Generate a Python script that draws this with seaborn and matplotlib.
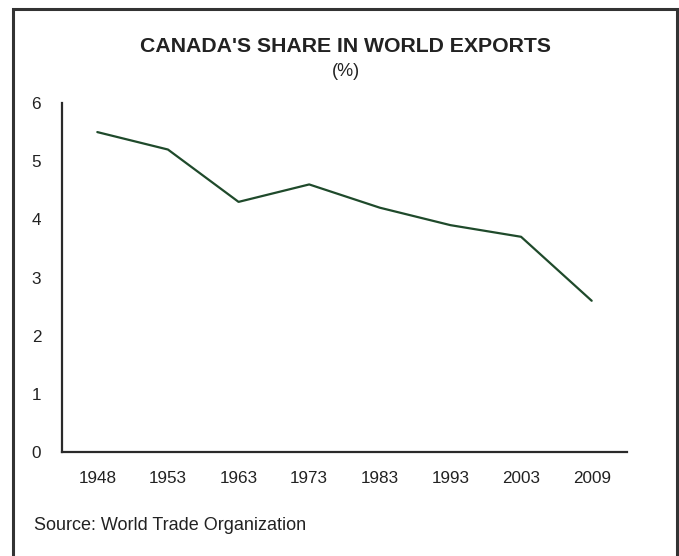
import matplotlib
matplotlib.use("Agg")
import matplotlib.pyplot as plt
import seaborn as sns
import pandas as pd
from matplotlib.patches import Rectangle

# Canada's share in world exports, per cent
years = ["1948", "1953", "1963", "1973", "1983", "1993", "2003", "2009"]
share = [5.5, 5.2, 4.3, 4.6, 4.2, 3.9, 3.7, 2.6]
y_ticks = [0, 1, 2, 3, 4, 5, 6]

sns.set_theme(style="white")
plt.rcParams["font.family"] = ["Liberation Sans", "DejaVu Sans"]

df = pd.DataFrame({"year": years, "share": share})

fig = plt.figure(figsize=(6.79, 5.56), dpi=100)
ax = fig.add_axes([62 / 679, 1 - 452 / 556, (627 - 62) / 679, (452 - 103) / 556])

sns.lineplot(data=df, x="year", y="share", ax=ax, color="#1f4a2b",
             linewidth=1.6, sort=False)

ax.set_xlim(-0.5, len(years) - 0.5)
ax.set_ylim(0, 6)
ax.set_yticks(y_ticks)
ax.set_yticklabels([str(v) for v in y_ticks])
ax.set_xlabel("")
ax.set_ylabel("")
ax.tick_params(axis="both", length=0, labelsize=12.3, colors="#222222")
ax.tick_params(axis="x", pad=14)
ax.tick_params(axis="y", pad=15)

for side in ("top", "right"):
    ax.spines[side].set_visible(False)
for side in ("left", "bottom"):
    ax.spines[side].set_color("#2a2a2a")
    ax.spines[side].set_linewidth(1.6)

fig.text(346 / 679, 1 - 47 / 556, "CANADA'S SHARE IN WORLD EXPORTS",
         ha="center", va="center", fontsize=15.3, fontweight="bold",
         color="#222222")
fig.text(346 / 679, 1 - 71 / 556, "(%)", ha="center", va="center",
         fontsize=13, color="#222222")
fig.text(34 / 679, 1 - 526 / 556, "Source: World Trade Organization",
         ha="left", va="center", fontsize=13, color="#222222")

# frame around the whole graphic (open at the bottom edge of the image)
fig.patches.append(Rectangle((13 / 679, -0.05), (677 - 13) / 679,
                             1.05 - 9 / 556, transform=fig.transFigure,
                             fill=False, edgecolor="#333333", linewidth=2.2))

fig.savefig("out.png", dpi=100, facecolor="white")
